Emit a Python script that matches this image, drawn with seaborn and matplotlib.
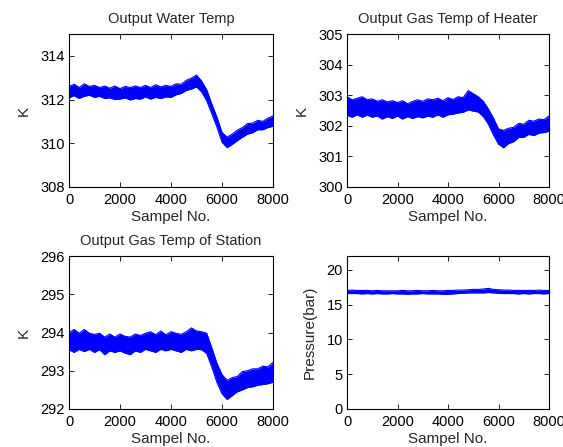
import matplotlib
matplotlib.use("Agg")
import matplotlib.pyplot as plt
import seaborn as sns
import pandas as pd

# sample positions at which the band envelope was read
samples = [0, 200, 400, 600, 800, 1000, 1200, 1400, 1600, 1800, 2000, 2200, 2400, 2600, 2800,
           3000, 3200, 3400, 3600, 3800, 4000, 4200, 4400, 4600, 4800, 5000, 5200, 5400, 5600,
           5800, 6000, 6200, 6400, 6600, 6800, 7000, 7200, 7400, 7600, 7800, 8000]

water_upper = [312.6, 312.7, 312.55, 312.72, 312.6, 312.65, 312.55, 312.62, 312.52, 312.62, 312.5,
               312.6, 312.55, 312.62, 312.55, 312.65, 312.55, 312.68, 312.58, 312.65, 312.6, 312.72,
               312.7, 312.88, 312.98, 313.12, 312.85, 312.45, 311.8, 311.2, 310.5, 310.28, 310.42,
               310.6, 310.72, 310.9, 310.92, 311.05, 311.0, 311.15, 311.25]
water_lower = [312.08, 312.18, 312.05, 312.15, 312.2, 312.1, 312.15, 312.05, 312.08, 312.0, 312.02,
               312.08, 311.98, 312.05, 312.02, 312.12, 312.02, 312.1, 312.05, 312.12, 312.1, 312.22,
               312.28, 312.42, 312.48, 312.58, 312.35, 311.95, 311.35, 310.75, 310.05, 309.8, 309.95,
               310.12, 310.28, 310.42, 310.48, 310.62, 310.62, 310.72, 310.78]

heater_upper = [302.95, 302.85, 302.9, 302.95, 302.85, 302.88, 302.8, 302.85, 302.78, 302.82, 302.76,
                302.82, 302.72, 302.8, 302.85, 302.8, 302.88, 302.85, 302.9, 302.82, 302.92, 302.86,
                302.95, 302.92, 303.15, 303.05, 302.95, 302.8, 302.55, 302.25, 301.9, 301.85,
                301.92, 301.95, 302.08, 302.05, 302.18, 302.15, 302.22, 302.2, 302.32]
heater_lower = [302.35, 302.28, 302.36, 302.28, 302.35, 302.28, 302.32, 302.22, 302.3, 302.24, 302.32,
                302.22, 302.3, 302.24, 302.3, 302.26, 302.32, 302.28, 302.36, 302.28, 302.36, 302.38,
                302.42, 302.44, 302.52, 302.48, 302.45, 302.3, 302.05, 301.7, 301.4, 301.28, 301.42,
                301.48, 301.62, 301.62, 301.72, 301.68, 301.76, 301.78, 301.82]

station_upper = [294.0, 294.08, 293.98, 294.08, 293.98, 293.95, 293.98, 293.88, 293.96, 293.88, 293.96,
                 293.9, 293.88, 293.96, 293.92, 293.98, 294.02, 293.94, 294.04, 293.94, 294.02, 293.98,
                 293.95, 294.02, 294.12, 294.04, 294.02, 293.98, 293.6, 293.2, 292.9, 292.75, 292.82,
                 292.85, 292.98, 293.0, 293.05, 293.05, 293.12, 293.1, 293.22]
station_lower = [293.55, 293.48, 293.56, 293.5, 293.56, 293.48, 293.55, 293.42, 293.52, 293.48, 293.52,
                 293.46, 293.42, 293.52, 293.48, 293.56, 293.52, 293.48, 293.56, 293.52, 293.56, 293.52,
                 293.48, 293.56, 293.52, 293.56, 293.55, 293.45, 293.1, 292.7, 292.4, 292.25, 292.35,
                 292.45, 292.5, 292.56, 292.58, 292.62, 292.64, 292.66, 292.7]

pressure_upper = [17.05, 17.1, 17.05, 17.05, 17.05, 17.0, 17.05, 17.0, 17.0, 17.0, 17.0,
                  17.05, 17.0, 17.0, 17.05, 17.0, 17.0, 17.05, 17.0, 17.0, 17.05, 17.05,
                  17.1, 17.1, 17.15, 17.2, 17.2, 17.25, 17.35, 17.2, 17.15, 17.1, 17.1,
                  17.05, 17.05, 17.05, 17.05, 17.05, 17.1, 17.05, 17.05]
pressure_lower = [16.6, 16.6, 16.6, 16.55, 16.6, 16.55, 16.6, 16.55, 16.55, 16.6, 16.55,
                  16.55, 16.5, 16.55, 16.55, 16.6, 16.55, 16.55, 16.55, 16.5, 16.5, 16.55,
                  16.6, 16.65, 16.7, 16.7, 16.7, 16.7, 16.75, 16.7, 16.65, 16.6, 16.6,
                  16.6, 16.55, 16.6, 16.55, 16.6, 16.6, 16.55, 16.6]

titles = ["Output Water Temp", "Output Gas Temp of Heater", "Output Gas Temp of Station", ""]
ylabels = ["K", "K", "K", "Pressure(bar)"]
ylims = [(308, 315), (300, 305), (292, 296), (0, 22)]
yticks = [[308, 310, 312, 314], [300, 301, 302, 303, 304, 305], [292, 293, 294, 295, 296],
          [0, 5, 10, 15, 20]]
xticks = [0, 2000, 4000, 6000, 8000]
xlabel = "Sampel No."

bands = [(water_upper, water_lower), (heater_upper, heater_lower),
         (station_upper, station_lower), (pressure_upper, pressure_lower)]

sns.set_theme(style="white")
plt.rcParams['font.family'] = ['Liberation Sans', 'DejaVu Sans']
plt.rcParams.update({
    'xtick.direction': 'in', 'ytick.direction': 'in',
    'xtick.top': True, 'ytick.right': True,
    'xtick.bottom': True, 'ytick.left': True,
    'xtick.major.size': 3.5, 'ytick.major.size': 3.5,
    'xtick.major.width': 0.6, 'ytick.major.width': 0.6,
    'xtick.color': 'black', 'ytick.color': 'black',
    'xtick.labelsize': 10.5, 'ytick.labelsize': 10.5,
    'axes.edgecolor': 'black', 'axes.linewidth': 0.8,
})

W, H = 563, 447
fig = plt.figure(figsize=(W / 100, H / 100), dpi=100)
boxes = [(69, 34, 273, 187), (347, 34, 549, 187), (69, 256, 273, 409), (347, 256, 549, 409)]
blue = (0, 0, 1)

for i, (l, t, r, b) in enumerate(boxes):
    ax = fig.add_axes([l / W, 1 - b / H, (r - l) / W, (b - t) / H])
    up, lo = bands[i]
    df = pd.DataFrame({"x": samples, "upper": up, "lower": lo})
    ax.fill_between(df["x"], df["lower"], df["upper"], color=blue, lw=0)
    sns.lineplot(data=df, x="x", y="upper", ax=ax, color=blue, lw=0.8)
    sns.lineplot(data=df, x="x", y="lower", ax=ax, color=blue, lw=0.8)
    ax.set_xlim(0, 8000)
    ax.set_ylim(*ylims[i])
    ax.set_xticks(xticks)
    ax.set_yticks(yticks[i])
    ax.set_xlabel(xlabel, fontsize=11, labelpad=2.5)
    ax.set_ylabel(ylabels[i], fontsize=11, labelpad=7)
    if titles[i]:
        ax.set_title(titles[i], fontsize=10.5, pad=8)
    ax.tick_params(axis='x', pad=4)
    ax.tick_params(axis='y', pad=3)
    for s in ax.spines.values():
        s.set_visible(True)
        s.set_color('black')

fig.savefig("out.png", dpi=100)
